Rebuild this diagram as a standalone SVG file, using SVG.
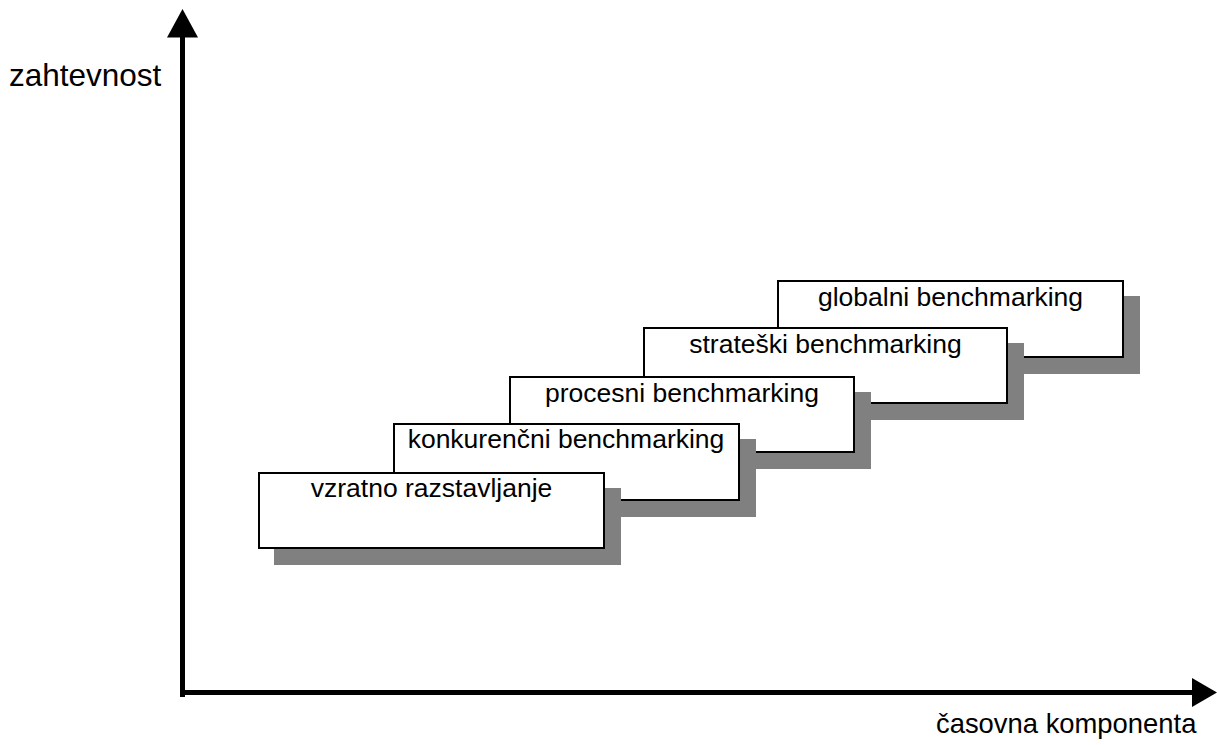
<svg xmlns="http://www.w3.org/2000/svg" width="1217" height="745" viewBox="0 0 1217 745">
<style>
.box{fill:#ffffff;stroke:#000000;stroke-width:2}
.shadow{fill:#808080;stroke:#808080;stroke-width:2}
.lbl{font-family:"Liberation Sans",Arial,sans-serif;font-size:26.5px;fill:#000000;text-anchor:middle}
.axl{font-family:"Liberation Sans",Arial,sans-serif;fill:#000000}
.axis{stroke:#000000;stroke-width:5;fill:none}
</style>
<rect x="0" y="0" width="1217" height="745" fill="#ffffff"/>
<g id="axes">
<line class="axis" x1="182.5" y1="36" x2="182.5" y2="697"/>
<line class="axis" x1="180" y1="692.5" x2="1193" y2="692.5"/>
<polygon points="182.5,9 167,37.5 198,37.5" fill="#000000"/>
<polygon points="1217,692.5 1192,678 1192,707" fill="#000000"/>
</g>
<text id="ylabel" class="axl" x="9" y="86" font-size="31.5">zahtevnost</text>
<text id="xlabel" class="axl" x="936" y="733" font-size="27.4">časovna komponenta</text>
<g id="globalni">
<rect class="shadow" x="794" y="297" width="345" height="76"/>
<rect class="box" x="778" y="281" width="345" height="76"/>
<text class="lbl" x="950.5" y="306">globalni benchmarking</text>
</g>
<g id="strateski">
<rect class="shadow" x="660" y="344" width="363" height="75"/>
<rect class="box" x="644" y="328" width="363" height="75"/>
<text class="lbl" x="825.5" y="353">strateški benchmarking</text>
</g>
<g id="procesni">
<rect class="shadow" x="526" y="393" width="344" height="75"/>
<rect class="box" x="510" y="377" width="344" height="75"/>
<text class="lbl" x="682" y="402">procesni benchmarking</text>
</g>
<g id="konkurencni">
<rect class="shadow" x="410" y="440" width="345" height="76"/>
<rect class="box" x="394" y="424" width="345" height="76"/>
<text class="lbl" x="566" y="448">konkurenčni benchmarking</text>
</g>
<g id="vzratno">
<rect class="shadow" x="275" y="489" width="345" height="75"/>
<rect class="box" x="259" y="473" width="345" height="75"/>
<text class="lbl" x="431.5" y="497">vzratno razstavljanje</text>
</g>
<g id="connectors"></g>
</svg>
